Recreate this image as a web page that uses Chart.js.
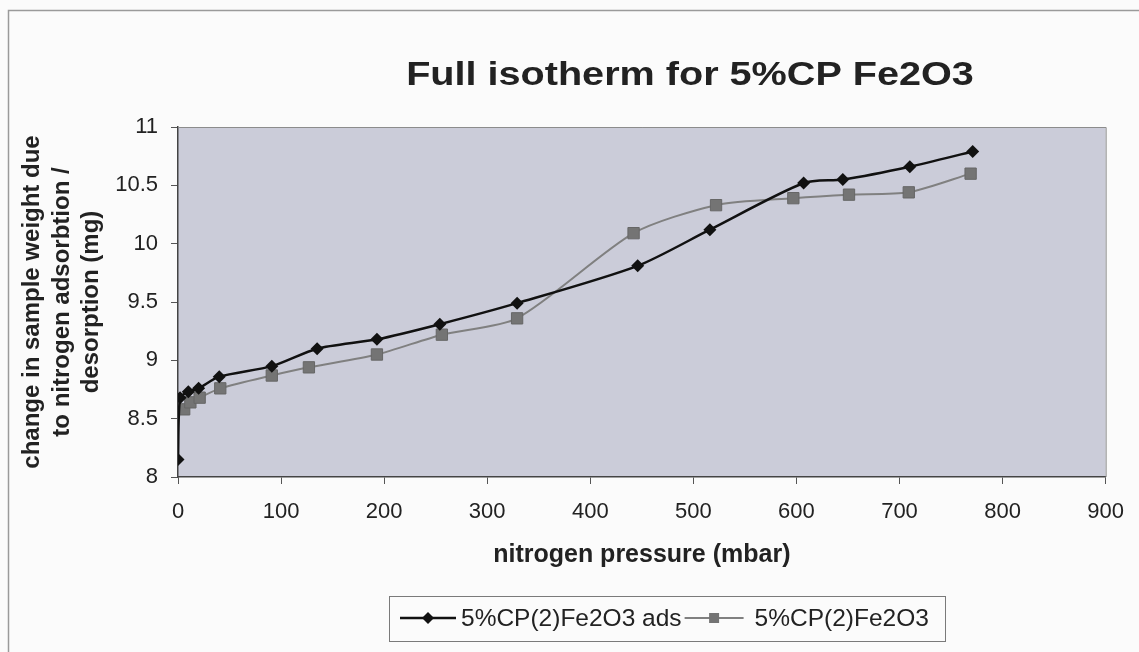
<!DOCTYPE html>
<html>
<head>
<meta charset="utf-8">
<script src="https://cdn.jsdelivr.net/npm/chart.js@4/dist/chart.umd.min.js"></script>
<style>
  html, body { margin: 0; padding: 0; background: #fbfbfb; }
  #wrap { position: relative; width: 1139px; height: 652px; }
</style>
</head>
<body>
<div id="wrap"><canvas id="c" width="1139" height="652"></canvas></div>
<script>
// ---- data ----
const chartTitle = "Full isotherm for 5%CP Fe2O3";
const xAxisTitle = "nitrogen pressure (mbar)";
const yAxisTitle = ["change in sample weight due", "to nitrogen adsorbtion /", "desorption (mg)"];

const adsLabel = "5%CP(2)Fe2O3 ads";
const adsPressure = [0, 2, 10, 20, 40, 91, 135, 193, 254, 329, 446, 516, 607, 645, 710, 771];
const adsWeight   = [8.15, 8.68, 8.73, 8.76, 8.86, 8.95, 9.10, 9.18, 9.31, 9.49, 9.81, 10.12, 10.52, 10.55, 10.66, 10.79];

const desLabel = "5%CP(2)Fe2O3";
const desPressure = [6, 12, 21, 41, 91, 127, 193, 256, 329, 442, 522, 597, 651, 709, 769];
const desWeight   = [8.58, 8.64, 8.68, 8.76, 8.87, 8.94, 9.05, 9.22, 9.36, 10.09, 10.33, 10.39, 10.42, 10.44, 10.60];

const xMin = 0, xMax = 900, xStep = 100;
const yMin = 8, yMax = 11, yStep = 0.5;

// ---- helpers ----
function toPoints(xs, ys) { return xs.map((x, i) => ({ x: x, y: ys[i] })); }

const FONT = "'Liberation Sans', Arial, Helvetica, sans-serif";
const TEXT = '#222222';

const decorPlugin = {
  id: 'decor',
  beforeDraw(chart) {
    const ctx = chart.ctx, a = chart.chartArea;
    ctx.save();
    ctx.fillStyle = '#fbfbfb';
    ctx.fillRect(0, 0, chart.width, chart.height);
    ctx.strokeStyle = '#9a9a9a';
    ctx.lineWidth = 1.5;
    ctx.strokeRect(8.5, 10.5, chart.width + 20, chart.height + 20);
    ctx.fillStyle = '#cbccd9';
    ctx.fillRect(a.left, a.top, a.right - a.left, a.bottom - a.top);
    ctx.restore();
  },
  afterDraw(chart) {
    const ctx = chart.ctx, a = chart.chartArea;
    ctx.save();
    // plot-area frame (top and right)
    ctx.strokeStyle = '#8c8c8c';
    ctx.lineWidth = 1;
    ctx.beginPath();
    ctx.moveTo(a.left, a.top + 0.5); ctx.lineTo(a.right + 0.5, a.top + 0.5); ctx.lineTo(a.right + 0.5, a.bottom);
    ctx.stroke();

    // chart title (the scanned original is set slightly wide)
    ctx.fillStyle = TEXT;
    ctx.font = "bold 33px " + FONT;
    ctx.textAlign = 'center';
    ctx.textBaseline = 'alphabetic';
    ctx.save();
    ctx.translate(690, 85);
    ctx.scale(1.2, 1);
    ctx.fillText(chartTitle, 0, 0);
    ctx.restore();

    // legend
    const ds = chart.data.datasets;
    const cy = 618;
    ctx.font = "24.5px " + FONT;
    ctx.textAlign = 'left';
    ctx.textBaseline = 'middle';
    let x = 400;
    const symW = [56, 59], gapAfter = [5, 11], gapBetween = 3;
    ds.forEach((d, i) => {
      ctx.strokeStyle = d.borderColor;
      ctx.lineWidth = d.borderWidth;
      ctx.beginPath(); ctx.moveTo(x, cy); ctx.lineTo(x + symW[i], cy); ctx.stroke();
      ctx.fillStyle = d.pointBackgroundColor;
      ctx.beginPath();
      const cx = x + symW[i] / 2;
      if (d.pointStyle === 'rectRot') {
        const r = 6;
        ctx.moveTo(cx, cy - r); ctx.lineTo(cx + r, cy); ctx.lineTo(cx, cy + r); ctx.lineTo(cx - r, cy); ctx.closePath();
      } else {
        const s = 5;
        ctx.rect(cx - s, cy - s, 2 * s, 2 * s);
      }
      ctx.fill();
      x += symW[i] + gapAfter[i];
      ctx.fillStyle = TEXT;
      ctx.fillText(d.label, x, cy + 1);
      x += ctx.measureText(d.label).width + gapBetween;
    });
    ctx.strokeStyle = '#7a7a7a';
    ctx.lineWidth = 1;
    ctx.strokeRect(389.5, 596.5, Math.round(x - 3 + 16 - 389), 45);
    ctx.restore();
  }
};

new Chart(document.getElementById('c'), {
  type: 'line',
  data: {
    datasets: [
      {
        label: adsLabel,
        data: toPoints(adsPressure, adsWeight),
        borderColor: '#111111',
        backgroundColor: '#111111',
        borderWidth: 2.5,
        pointStyle: 'rectRot',
        pointRadius: 6.5,
        pointBorderWidth: 0,
        pointBorderColor: '#111111',
        pointBackgroundColor: '#111111',
        tension: 0.25,
        fill: false
      },
      {
        label: desLabel,
        data: toPoints(desPressure, desWeight),
        borderColor: '#808080',
        backgroundColor: '#6f6f6f',
        borderWidth: 2,
        pointStyle: 'rect',
        pointRadius: 8,
        pointBorderWidth: 1,
        pointBorderColor: '#666666',
        pointBackgroundColor: '#747474',
        tension: 0.25,
        fill: false
      }
    ]
  },
  options: {
    responsive: false,
    animation: false,
    devicePixelRatio: 1,
    layout: { padding: { left: 18, right: 33, top: 127, bottom: 82 } },
    scales: {
      x: {
        type: 'linear',
        min: xMin, max: xMax,
        ticks: { stepSize: xStep, color: TEXT, font: { family: FONT, size: 22 }, padding: 15, maxRotation: 0 },
        grid: { drawOnChartArea: false, drawTicks: true, tickLength: 7, color: '#555', lineWidth: 1 },
        border: { display: true, color: '#444', width: 1.5 },
        title: { display: true, text: xAxisTitle, color: TEXT, font: { family: FONT, size: 25, weight: 'bold', lineHeight: 1.2 }, padding: { top: 0, bottom: 0 } },
        afterFit(s) { s.height = 93; }
      },
      y: {
        type: 'linear',
        min: yMin, max: yMax,
        ticks: { stepSize: yStep, color: TEXT, font: { family: FONT, size: 22 }, padding: 13, callback: v => String(v) },
        grid: { drawOnChartArea: false, drawTicks: true, tickLength: 7, color: '#555', lineWidth: 1 },
        border: { display: true, color: '#444', width: 1.5 },
        title: { display: true, text: yAxisTitle, color: TEXT, font: { family: FONT, size: 24, weight: 'bold', lineHeight: 1.23 }, padding: { top: 0, bottom: 0 } },
        afterFit(s) { s.width = 160; }
      }
    },
    plugins: {
      title: { display: false },
      legend: { display: false },
      tooltip: { enabled: false }
    }
  },
  plugins: [decorPlugin]
});
</script>
</body>
</html>
